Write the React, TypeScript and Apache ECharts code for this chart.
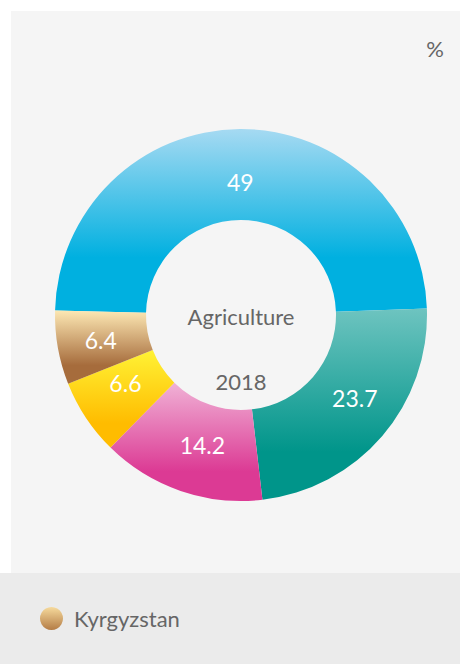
import React, { useEffect, useRef } from "react";
import * as echarts from "echarts";

const categories = ["Services", "Industry", "Trade", "Construction", "Agriculture"];
const values = [49, 23.7, 14.2, 6.6, 6.4];
const gradientStops: [string, string][] = [
  ["#a6daf2", "#00b0e0"],
  ["#6ec4c0", "#00958a"],
  ["#f0b2d6", "#dc3a94"],
  ["#fff235", "#ffbc00"],
  ["#fde8b4", "#a66c3c"],
];
const labelNudges: [number, number][] = [
  [0, 10],
  [5, -11],
  [8, -6],
  [4, -11],
  [1, 0],
];
const centerTitle = "Agriculture";
const centerYear = "2018";
const unitLabel = "%";
const countryName = "Kyrgyzstan";

const grad = (top: string, bottom: string, mid = 0.75) =>
  new echarts.graphic.LinearGradient(0, 0, 0, 1, [
    { offset: 0, color: top },
    { offset: mid, color: bottom },
    { offset: 1, color: bottom },
  ]);

export default function App() {
  const ref = useRef<HTMLDivElement>(null);
  useEffect(() => {
    if (!ref.current) return;
    const chart = echarts.init(ref.current, null, { renderer: "svg" });
    const font = "Lato, 'Open Sans', sans-serif";
    chart.setOption({
      animation: false,
      backgroundColor: "#ffffff",
      graphic: [
        { type: "rect", z: -10, shape: { x: 11, y: 11, width: 449, height: 562 }, style: { fill: "#f5f5f5" }, silent: true },
        { type: "rect", z: -10, shape: { x: 0, y: 573, width: 460, height: 91 }, style: { fill: "#ebebeb" }, silent: true },
        { type: "text", x: 435, y: 48, style: { text: unitLabel, fill: "#666666", font: `22px ${font}`, align: "center", verticalAlign: "middle" } },
        { type: "text", x: 241, y: 316, style: { text: centerTitle, fill: "#666666", font: `22px ${font}`, align: "center", verticalAlign: "middle" } },
        { type: "text", x: 241, y: 381, style: { text: centerYear, fill: "#666666", font: `22px ${font}`, align: "center", verticalAlign: "middle" } },
      ],
      legend: {
        show: true,
        left: 35,
        top: 602,
        orient: "horizontal",
        itemWidth: 23,
        itemHeight: 23,
        itemGap: 10,
        icon: "circle",
        textStyle: { color: "#666666", fontSize: 22, fontFamily: font, padding: [0, 0, 0, 6] },
        data: [
          {
            name: countryName,
            icon: "circle",
            itemStyle: { color: grad("#f6da9c", "#b47c46", 1) },
          },
        ],
      },
      series: [
        {
          name: countryName,
          type: "pie",
          center: [241, 315],
          radius: [95, 186],
          startAngle: 178.6,
          clockwise: true,
          avoidLabelOverlap: false,
          label: {
            show: true,
            position: "inside",
            color: "#ffffff",
            fontSize: 23,
            fontFamily: font,
            formatter: (p: any) => String(p.value),
          },
          labelLine: { show: false },
          emphasis: { disabled: true },
          itemStyle: { borderWidth: 0 },
          data: categories.map((c, i) => ({
            name: c,
            value: values[i],
            label: { offset: labelNudges[i] },
            itemStyle: { color: grad(gradientStops[i][0], gradientStops[i][1], i === 0 ? 0.7 : 0.75) },
          })),
        },
      ],
    });
    return () => chart.dispose();
  }, []);
  return <div ref={ref} style={{ position: "fixed", left: 0, top: 0, width: 460, height: 664 }} />;
}
